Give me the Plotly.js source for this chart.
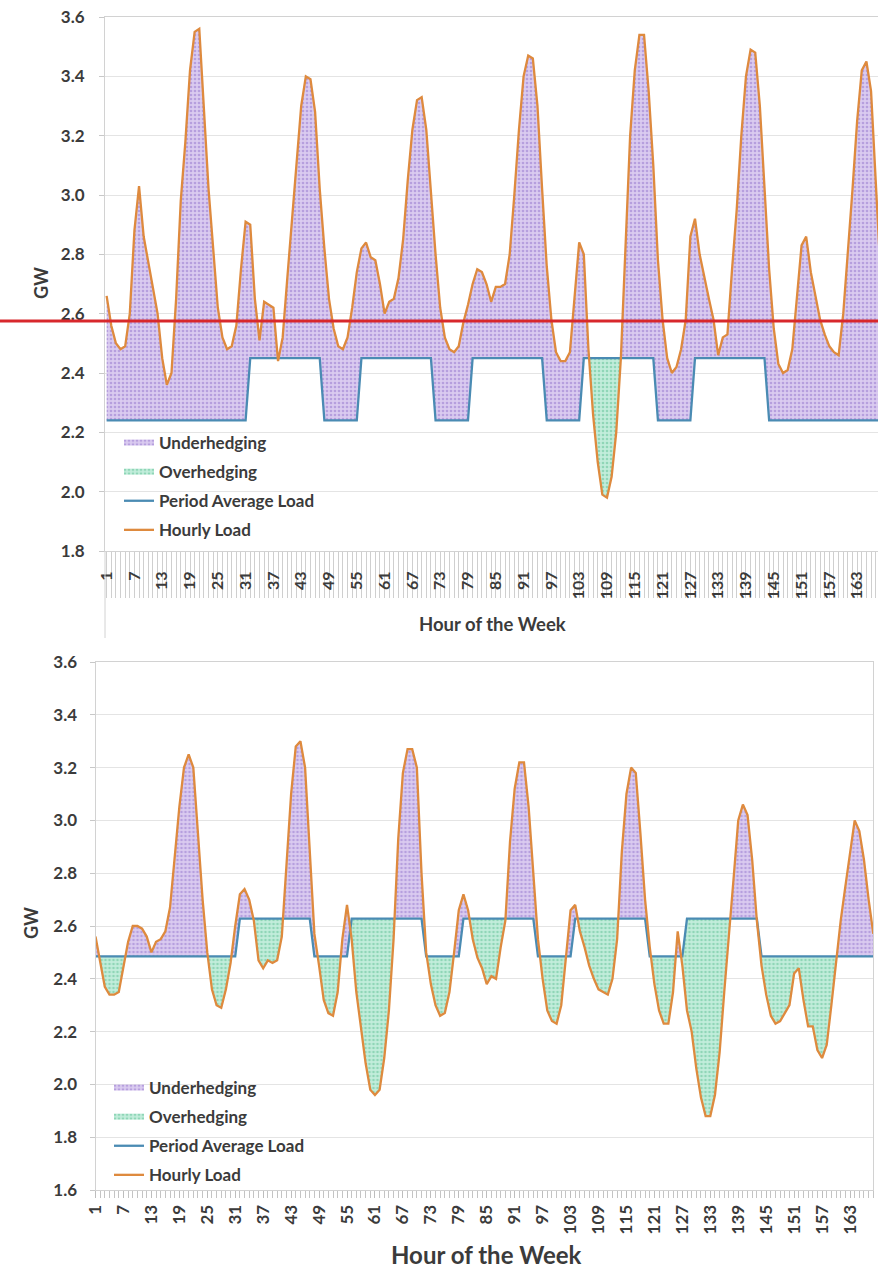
<!DOCTYPE html>
<html><head><meta charset="utf-8">
<script src="https://cdn.plot.ly/plotly-3.0.1.min.js"></script>
<style>html,body{margin:0;padding:0;background:#fff}#chart{width:878px;height:1283px}</style>
</head><body><div id="chart"></div>
<script>
// ---------- DATA ----------
const hours = [];                       // categories: hour of the week 1..168
for (let h = 1; h <= 168; h++) hours.push(h);
const tickLabels = ['1','7','13','19','25','31','37','43','49','55','61','67','73','79','85','91','97','103','109','115','121','127','133','139','145','151','157','163'];

const topHourlyLoad = [
 2.66,2.56,2.50,2.48,2.49,2.60,2.88,3.03,2.86,2.77,
 2.68,2.60,2.45,2.36,2.40,2.65,2.98,3.18,3.42,3.55,
 3.56,3.30,3.02,2.82,2.62,2.52,2.48,2.49,2.56,2.75,
 2.91,2.90,2.65,2.51,2.64,2.63,2.62,2.44,2.52,2.72,
 2.92,3.12,3.30,3.40,3.39,3.28,3.02,2.82,2.65,2.55,
 2.49,2.48,2.52,2.62,2.74,2.82,2.84,2.79,2.78,2.70,
 2.60,2.64,2.65,2.72,2.85,3.05,3.22,3.32,3.33,3.22,
 3.00,2.80,2.62,2.52,2.48,2.47,2.49,2.57,2.63,2.70,
 2.75,2.74,2.70,2.64,2.69,2.69,2.70,2.80,3.00,3.22,
 3.40,3.47,3.46,3.30,3.02,2.76,2.58,2.47,2.44,2.44,
 2.47,2.65,2.84,2.80,2.48,2.26,2.10,1.99,1.98,2.05,
 2.20,2.45,2.85,3.20,3.42,3.54,3.54,3.35,3.10,2.78,
 2.58,2.45,2.40,2.42,2.48,2.58,2.86,2.92,2.80,2.72,
 2.65,2.58,2.46,2.52,2.53,2.75,2.95,3.20,3.40,3.49,
 3.48,3.30,3.02,2.75,2.55,2.43,2.40,2.41,2.48,2.65,
 2.83,2.86,2.74,2.66,2.58,2.53,2.49,2.47,2.46,2.60,
 2.80,3.02,3.25,3.42,3.45,3.35,3.05,2.75
];
const topOffPeakAvg = 2.24;
const topOnPeakAvg = 2.45;

const bottomHourlyLoad = [
 2.56,2.46,2.37,2.34,2.34,2.35,2.44,2.54,2.60,2.60,
 2.59,2.56,2.50,2.54,2.55,2.58,2.67,2.85,3.05,3.20,
 3.25,3.20,2.95,2.70,2.50,2.36,2.30,2.29,2.36,2.46,
 2.60,2.72,2.74,2.70,2.62,2.47,2.44,2.47,2.46,2.47,
 2.56,2.85,3.10,3.28,3.30,3.20,2.90,2.57,2.45,2.32,
 2.27,2.26,2.35,2.55,2.68,2.55,2.35,2.22,2.08,1.98,
 1.96,1.98,2.10,2.28,2.55,2.93,3.18,3.27,3.27,3.20,
 2.80,2.50,2.38,2.30,2.26,2.27,2.35,2.50,2.66,2.72,
 2.66,2.55,2.48,2.44,2.38,2.41,2.40,2.52,2.62,2.92,
 3.12,3.22,3.22,3.05,2.80,2.55,2.40,2.28,2.24,2.23,
 2.30,2.48,2.66,2.68,2.58,2.52,2.45,2.40,2.36,2.35,
 2.34,2.40,2.55,2.88,3.10,3.20,3.18,2.95,2.70,2.52,
 2.38,2.28,2.23,2.23,2.35,2.58,2.45,2.28,2.20,2.06,
 1.95,1.88,1.88,1.96,2.12,2.35,2.58,2.78,3.00,3.06,
 3.02,2.85,2.62,2.45,2.34,2.26,2.23,2.24,2.27,2.30,
 2.42,2.44,2.32,2.22,2.22,2.13,2.10,2.15,2.30,2.46,
 2.62,2.75,2.88,3.00,2.96,2.85,2.70,2.57
];
const bottomOffPeakAvg = 2.485;
const bottomOnPeakAvg = 2.628;

// on-peak hours (first, last) for the period average load
const onPeakRanges = [[32,47],[56,71],[80,95],[104,119],[128,143]];
const redLineLevel = 2.575;

// ---------- HELPERS ----------
function periodAverage(off, on) {
  return hours.map(h => onPeakRanges.some(r => h >= r[0] && h <= r[1]) ? on : off);
}
function splitFill(x, load, avg) {
  const X = [], L = [], A = [];
  for (let i = 0; i < x.length; i++) {
    X.push(x[i]); L.push(load[i]); A.push(avg[i]);
    if (i < x.length - 1) {
      const d0 = load[i] - avg[i], d1 = load[i+1] - avg[i+1];
      if (d0 * d1 < 0) {
        const t = d0 / (d0 - d1);
        const yc = load[i] + t * (load[i+1] - load[i]);
        X.push(x[i] + t * (x[i+1] - x[i])); L.push(yc); A.push(yc);
      }
    }
  }
  return {X, A, upper: L.map((v,i)=>Math.max(v,A[i])), lower: L.map((v,i)=>Math.min(v,A[i]))};
}

const purple = {shape:'.', bgcolor:'#dacbf0', fgcolor:'#b69fde', size:4, solidity:0.35};
const green  = {shape:'.', bgcolor:'#c2eddb', fgcolor:'#8fd6b7', size:4, solidity:0.35};
const blue = '#4a8bb3';
const orange = '#de8a3e';

function panelTraces(load, avg, xa, ya, legendId) {
  const f = splitFill(hours, load, avg);
  const base = {x:f.X, y:f.A, xaxis:xa, yaxis:ya, mode:'lines', line:{width:0, color:'rgba(0,0,0,0)'}, showlegend:false, hoverinfo:'skip', legend:legendId};
  return [
    base,
    {x:f.X, y:f.upper, xaxis:xa, yaxis:ya, mode:'none', fill:'tonexty', fillcolor:'#d7c8ee', fillpattern:purple,
     name:'Underhedging', legend:legendId, legendgroup:legendId+'u'},
    Object.assign({}, base),
    {x:f.X, y:f.lower, xaxis:xa, yaxis:ya, mode:'none', fill:'tonexty', fillcolor:'#bfeada', fillpattern:green,
     name:'Overhedging', legend:legendId, legendgroup:legendId+'o'},
    {x:hours, y:avg, xaxis:xa, yaxis:ya, mode:'lines', line:{color:blue, width:2.3},
     name:'Period Average Load', legend:legendId, legendgroup:legendId+'p'},
    {x:hours, y:load, xaxis:xa, yaxis:ya, mode:'lines', line:{color:orange, width:2.3},
     name:'Hourly Load', legend:legendId, legendgroup:legendId+'h'}
  ];
}

const topAvg = periodAverage(topOffPeakAvg, topOnPeakAvg);
const bottomAvg = periodAverage(bottomOffPeakAvg, bottomOnPeakAvg);

// empty carrier trace so the overlaid tick-label axis (x3) of the top panel is drawn above the per-hour tick band
const labelCarrier = {x:hours, y:hours.map(()=>null), xaxis:'x3', yaxis:'y', mode:'lines', showlegend:false, hoverinfo:'skip'};

const data = panelTraces(topHourlyLoad, topAvg, 'x', 'y', 'legend')
  .concat([labelCarrier])
  .concat(panelTraces(bottomHourlyLoad, bottomAvg, 'x2', 'y2', 'legend2'));

// ---------- LAYOUT ----------
const W = 878, H = 1283;
const px = v => v / W, py = v => 1 - v / H;
const fam = 'Lato, "Open Sans", sans-serif';
const txt = '#3b3b3b';
const F = s => ({family:fam, size:s, color:txt, weight:700});
const tickVals = tickLabels.map(Number);

const layout = {
  width: W, height: H, margin:{l:0,r:0,t:0,b:0},
  paper_bgcolor:'#fff', plot_bgcolor:'#fff',
  font:F(15), showlegend:true, hovermode:false,
  // top panel: per-hour tick band
  xaxis:{domain:[px(105),1], range:[0.65,167.5], anchor:'y', tickmode:'linear', tick0:1, dtick:1,
    ticks:'outside', ticklen:46, tickwidth:1, tickcolor:'#cfcfcf', showticklabels:false,
    showgrid:false, zeroline:false, showline:true, mirror:true, linecolor:'#d2d2d2', linewidth:1, fixedrange:true},
  // top panel: labels every 6 hours
  xaxis3:{overlaying:'x', anchor:'y', range:[0.65,167.5], tickmode:'array', tickvals:tickVals, ticktext:tickLabels,
    tickangle:-90, ticks:'outside', ticklen:13, tickcolor:'rgba(0,0,0,0)', tickfont:F(16),
    showgrid:false, zeroline:false, showline:false, fixedrange:true},
  yaxis:{domain:[py(551), py(17)], range:[1.8,3.6], anchor:'x', tickmode:'linear', tick0:1.8, dtick:0.2, tickformat:'.1f',
    ticks:'outside', ticklen:5, tickcolor:'#c8c8c8', tickfont:F(17), ticklabelstandoff:11, gridcolor:'#e4e4e4',
    zeroline:false, showline:true, linecolor:'#d2d2d2', fixedrange:true},
  xaxis2:{domain:[px(95.5), px(873.3)], range:[1,168], anchor:'y2', tickmode:'array', tickvals:tickVals, ticktext:tickLabels,
    tickangle:-90, ticks:'outside', ticklen:7, tickcolor:'#bdbdbd', tickfont:F(17),
    minor:{tickmode:'linear', tick0:1, dtick:1, ticks:'outside', ticklen:7, tickcolor:'#c4c4c4', showgrid:false},
    showgrid:false, zeroline:false, showline:true, mirror:true, linecolor:'#d2d2d2', fixedrange:true},
  yaxis2:{domain:[py(1190), py(662)], range:[1.6,3.6], anchor:'x2', tickmode:'linear', tick0:1.6, dtick:0.2, tickformat:'.1f',
    ticks:'outside', ticklen:5, tickcolor:'#c8c8c8', tickfont:F(17), ticklabelstandoff:9, gridcolor:'#e4e4e4',
    zeroline:false, showline:true, mirror:true, linecolor:'#d2d2d2', fixedrange:true},
  legend:{x:px(119), y:py(425), xanchor:'left', yanchor:'top', bgcolor:'rgba(255,255,255,0)',
    font:F(17), traceorder:'grouped', tracegroupgap:4, itemwidth:30},
  legend2:{x:px(109), y:py(1070), xanchor:'left', yanchor:'top', bgcolor:'rgba(255,255,255,0)',
    font:F(17), traceorder:'grouped', tracegroupgap:4, itemwidth:30},
  shapes:[
    {type:'rect', xref:'paper', yref:'paper', x0:px(106), x1:px(330), y0:py(548), y1:py(422), fillcolor:'#fff', line:{width:0}, layer:'between'},
    {type:'rect', xref:'paper', yref:'paper', x0:px(96), x1:px(323), y0:py(1188), y1:py(1068), fillcolor:'#fff', line:{width:0}, layer:'between'},
    {type:'line', xref:'paper', yref:'paper', x0:px(105), x1:px(105), y0:py(638), y1:py(551), line:{color:'#d2d2d2', width:1}},
    {type:'line', xref:'paper', yref:'y', x0:0, x1:1, y0:redLineLevel, y1:redLineLevel, line:{color:'#d8282c', width:3}, layer:'above'}
  ],
  annotations:[
    {text:'GW', xref:'paper', yref:'paper', x:px(41), y:py(283), xanchor:'center', yanchor:'middle', textangle:-90, showarrow:false, font:F(18)},
    {text:'Hour of the Week', xref:'paper', yref:'paper', x:px(492), y:py(624), xanchor:'center', yanchor:'middle', showarrow:false, font:F(18.5)},
    {text:'GW', xref:'paper', yref:'paper', x:px(31), y:py(923), xanchor:'center', yanchor:'middle', textangle:-90, showarrow:false, font:F(18)},
    {text:'Hour of the Week', xref:'paper', yref:'paper', x:px(486), y:py(1254), xanchor:'center', yanchor:'middle', showarrow:false, font:F(24)}
  ]
};

Plotly.newPlot('chart', data, layout, {staticPlot:true, displayModeBar:false});
</script>
</body></html>
